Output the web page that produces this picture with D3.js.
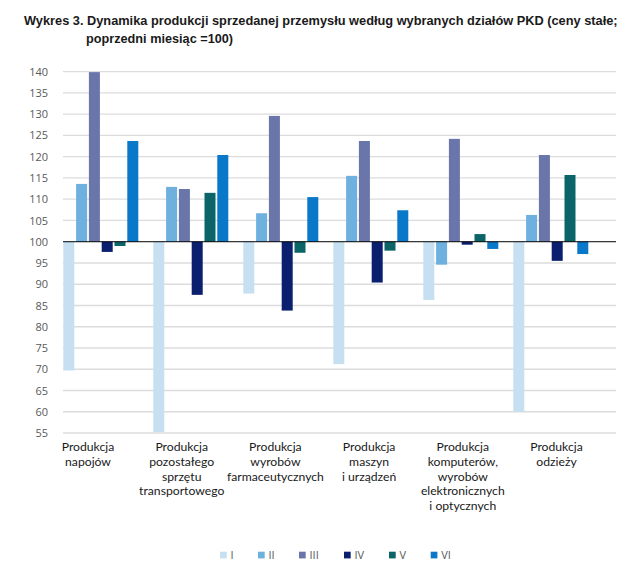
<!DOCTYPE html>
<html>
<head>
<meta charset="utf-8">
<script src="https://cdn.jsdelivr.net/npm/d3@7/dist/d3.min.js"></script>
<style>
  html, body { margin: 0; padding: 0; background: #ffffff; }
  svg { display: block; }
</style>
</head>
<body>
<script>
const categories = [
  ["Produkcja", "napojów"],
  ["Produkcja", "pozostałego", "sprzętu", "transportowego"],
  ["Produkcja", "wyrobów", "farmaceutycznych"],
  ["Produkcja", "maszyn", "i urządzeń"],
  ["Produkcja", "komputerów,", "wyrobów", "elektronicznych", "i optycznych"],
  ["Produkcja", "odzieży"]
];
const seriesNames = ["I", "II", "III", "IV", "V", "VI"];
const seriesI   = [69.7, 55.2, 87.8, 71.2, 86.3, 60.0];
const seriesII  = [113.6, 112.9, 106.7, 115.5, 94.6, 106.3];
const seriesIII = [139.9, 112.4, 129.6, 123.7, 124.2, 120.4];
const seriesIV  = [97.6, 87.5, 83.8, 90.4, 99.3, 95.5];
const seriesV   = [99.0, 111.5, 97.4, 97.9, 101.8, 115.7];
const seriesVI  = [123.7, 120.4, 110.5, 107.4, 98.3, 97.1];
const yTicks = [55, 60, 65, 70, 75, 80, 85, 90, 95, 100, 105, 110, 115, 120, 125, 130, 135, 140];
const colors = ["#c6e0f1", "#6eb0de", "#6a76aa", "#0b1f6f", "#0b6467", "#0a78c8"];

const allSeries = [seriesI, seriesII, seriesIII, seriesIV, seriesV, seriesVI];
const W = 632, H = 580;
const svg = d3.select("body").append("svg").attr("width", W).attr("height", H);

// Title (font size fitted to the reference's line width)
const title = svg.append("g").attr("font-family", "'Liberation Sans Narrow', 'Liberation Sans', sans-serif")
  .attr("font-weight", "bold").attr("fill", "#1a1a1a");
function fitText(x, yPos, txt, targetW) {
  const t = title.append("text").attr("x", x).attr("y", yPos).attr("font-size", 14).text(txt);
  const w = t.node().getComputedTextLength();
  if (w > 0) t.attr("font-size", (14 * targetW / w).toFixed(2));
  return t;
}
fitText(24, 25, "Wykres 3. Dynamika produkcji sprzedanej przemysłu według wybranych działów PKD (ceny stałe;", 594);
fitText(86, 43, "poprzedni miesiąc =100)", 147);

// Scales
const y = d3.scaleLinear().domain([55, 140]).range([433, 71.7]);
const x0 = d3.scaleBand().domain(d3.range(categories.length)).range([55.8, 595.8])
  .paddingInner(1/6).paddingOuter(1/12);
const x1 = d3.scaleBand().domain(d3.range(seriesNames.length)).range([0, x0.bandwidth()])
  .paddingInner(0.14).paddingOuter(0);
const xLabel = d3.scalePoint().domain(d3.range(categories.length)).range([88, 556.5]);

const gridX0 = 63, gridX1 = 616;

// Gridlines
svg.append("g").selectAll("line").data(yTicks.filter(t => t !== 100)).join("line")
  .attr("x1", gridX0).attr("x2", gridX1)
  .attr("y1", d => y(d)).attr("y2", d => y(d))
  .attr("stroke", "#dcdcdc").attr("stroke-width", 1.3);

// Y axis labels
const yAxis = d3.axisLeft(y).tickValues(yTicks).tickSize(0).tickPadding(0);
const ga = svg.append("g").attr("transform", "translate(48,0)").call(yAxis);
ga.select(".domain").remove();
ga.selectAll("text").attr("font-family", "'Open Sans', sans-serif").attr("font-size", 11)
  .attr("fill", "#595959");

// Bars
const groups = svg.append("g").selectAll("g").data(categories).join("g")
  .attr("transform", (d, i) => `translate(${x0(i)},0)`);
groups.selectAll("rect").data((d, i) => allSeries.map((s, j) => ({ j, v: s[i] }))).join("rect")
  .attr("x", d => x1(d.j))
  .attr("width", x1.bandwidth())
  .attr("y", d => Math.min(y(d.v), y(100)))
  .attr("height", d => Math.abs(y(d.v) - y(100)))
  .attr("fill", d => colors[d.j]);

// Baseline at 100
svg.append("line").attr("x1", gridX0).attr("x2", gridX1)
  .attr("y1", y(100)).attr("y2", y(100)).attr("stroke", "#000").attr("stroke-width", 1);

// Category labels
const cl = svg.append("g").attr("font-family", "Lato, sans-serif").attr("font-size", 12.2)
  .attr("fill", "#1a1a1a").attr("text-anchor", "middle");
categories.forEach((lines, i) => {
  const t = cl.append("text").attr("x", xLabel(i)).attr("y", 451);
  lines.forEach((ln, k) => {
    t.append("tspan").attr("x", xLabel(i)).attr("dy", k === 0 ? 0 : 14.8).text(ln);
  });
});

// Legend
const legendX = [220, 258, 299, 344, 389, 430.7];
const lg = svg.append("g").attr("font-family", "'Open Sans', sans-serif").attr("font-size", 11).attr("fill", "#595959");
seriesNames.forEach((n, j) => {
  lg.append("rect").attr("x", legendX[j]).attr("y", 551.7).attr("width", 6.7).attr("height", 6.7).attr("fill", colors[j]);
  lg.append("text").attr("x", legendX[j] + 10.5).attr("y", 559).text(n);
});
</script>
</body>
</html>
